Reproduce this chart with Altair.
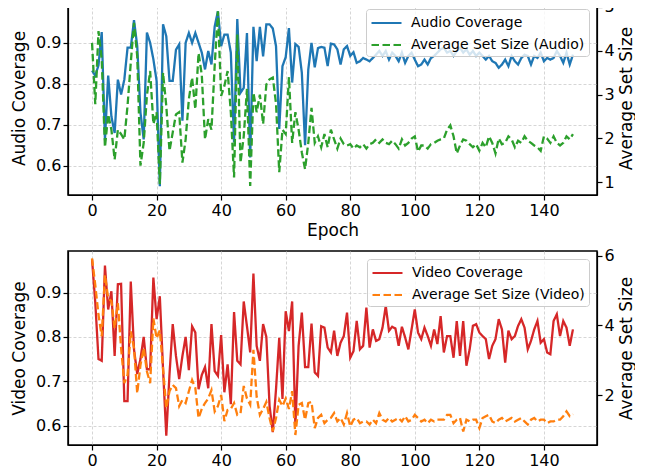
import altair as alt
import pandas as pd

epochs = list(range(150))

audio_cov = [
    0.832, 0.820, 0.845, 0.926, 0.664, 0.820, 0.720, 0.680, 0.810, 0.774,
    0.810, 0.888, 0.888, 0.955, 0.892, 0.730, 0.664, 0.925, 0.900, 0.860,
    0.807, 0.550, 0.945, 0.916, 0.807, 0.807, 0.883, 0.896, 0.710, 0.900,
    0.924, 0.900, 0.924, 0.900, 0.876,
    0.835, 0.880, 0.847, 0.940, 0.977, 0.892, 0.920, 0.920, 0.876, 0.657,
    0.958, 0.778, 0.790, 0.924, 0.620, 0.939, 0.855, 0.939, 0.867, 0.945,
    0.945, 0.935, 0.892, 0.690, 0.843, 0.865, 0.936, 0.803, 0.897, 0.890,
    0.827, 0.650, 0.835, 0.900, 0.840, 0.887, 0.890,
    0.888, 0.843, 0.898, 0.896, 0.884, 0.847, 0.884, 0.892, 0.868, 0.877,
    0.851, 0.855, 0.863, 0.859, 0.855, 0.863, 0.871, 0.880, 0.868, 0.880,
    0.859, 0.876, 0.868, 0.855, 0.876, 0.851, 0.868, 0.876, 0.859, 0.843,
    0.847, 0.859, 0.847, 0.863, 0.868, 0.876, 0.884, 0.888, 0.876, 0.880,
    0.868, 0.880, 0.888, 0.876, 0.884, 0.871, 0.880, 0.868, 0.876, 0.868,
    0.859, 0.868, 0.855, 0.851, 0.839, 0.847, 0.859, 0.843, 0.868, 0.855,
    0.847, 0.863, 0.871, 0.868, 0.847, 0.868, 0.863, 0.876, 0.855, 0.863,
    0.859, 0.863, 0.880, 0.868, 0.851, 0.876, 0.847, 0.871,
]

audio_size = [
    4.18, 2.78, 4.45, 3.80, 1.80, 2.55, 2.20, 1.52, 2.20, 2.10,
    1.98, 2.75, 3.73, 4.64, 3.88, 1.38, 1.90, 2.98, 3.54, 2.33,
    2.60, 0.96, 3.50, 2.74, 1.72, 2.14, 2.55, 2.60, 1.45, 1.98,
    2.90, 3.39, 2.67, 3.95, 3.45, 1.98, 2.44, 2.20, 3.66, 4.90,
    2.97, 3.20, 3.54, 2.60, 1.11, 4.37, 1.45, 2.05, 3.13, 0.92,
    3.05, 2.60, 3.00, 2.33, 3.23, 3.35, 3.39, 2.80, 1.23, 2.20,
    2.10, 3.40, 1.90, 2.60, 2.20, 1.68, 1.30, 1.90, 2.70, 1.90,
    2.05, 1.80,
    2.10, 1.80, 2.20, 1.98, 1.77, 2.00, 1.87, 1.84, 1.87, 1.77,
    1.84, 1.80, 1.87, 1.77, 1.87, 1.90, 1.98, 1.90, 1.98, 1.90,
    1.87, 1.95, 1.87, 1.77, 1.98, 1.84, 1.90, 2.00, 2.05, 1.70,
    1.84, 1.84, 1.77, 1.87, 1.90, 1.95, 1.98, 2.00, 2.20, 2.30,
    2.05, 1.66, 1.84, 1.98, 1.95, 1.87, 1.80, 1.87, 1.72, 1.90,
    1.80, 2.05, 1.90, 1.66, 2.00, 1.87, 1.90, 2.05, 1.98, 1.80,
    1.95, 1.90, 2.05, 1.95, 1.90, 1.84, 1.80, 1.72, 2.05, 2.00,
    1.90, 2.05, 1.90, 1.84, 1.90, 2.05, 1.98, 2.10,
]

video_cov = [
    0.975, 0.878, 0.750, 0.746, 0.961, 0.862, 0.903, 0.757, 0.919, 0.920,
    0.655, 0.655, 0.925, 0.772, 0.716, 0.750, 0.800, 0.727, 0.727, 0.934,
    0.840, 0.892, 0.727, 0.577, 0.716, 0.829, 0.757, 0.705, 0.757, 0.800,
    0.725, 0.824, 0.810, 0.682, 0.714, 0.732, 0.684, 0.829, 0.723, 0.712,
    0.804, 0.675, 0.738, 0.648, 0.856, 0.746, 0.738, 0.880, 0.824, 0.765,
    0.943, 0.780, 0.746, 0.829, 0.800, 0.644, 0.585, 0.682, 0.798, 0.660,
    0.858, 0.813, 0.880, 0.600, 0.780, 0.855, 0.732, 0.732, 0.830, 0.720,
    0.712, 0.824,
    0.821, 0.776, 0.765, 0.814, 0.757, 0.787, 0.802, 0.855, 0.753, 0.768,
    0.836, 0.772, 0.780, 0.866, 0.776, 0.817, 0.791, 0.795, 0.821, 0.870,
    0.814, 0.823, 0.819, 0.780, 0.823, 0.799, 0.772, 0.817, 0.862, 0.810,
    0.795, 0.821, 0.802, 0.780, 0.817, 0.784, 0.847, 0.765, 0.802, 0.802,
    0.753, 0.836, 0.757, 0.836, 0.735, 0.772, 0.825, 0.829, 0.810, 0.802,
    0.795, 0.750, 0.780, 0.795, 0.840, 0.817, 0.742, 0.814, 0.795, 0.802,
    0.825, 0.840, 0.821, 0.772, 0.791, 0.817, 0.836, 0.787, 0.795, 0.765,
    0.761, 0.836, 0.851, 0.802, 0.836, 0.821, 0.780, 0.817,
]

video_size = [
    5.93, 5.16, 4.30, 3.69, 5.45, 4.78, 4.70, 3.92, 4.64, 3.35,
    2.34, 2.58, 3.83, 3.35, 2.05, 2.86, 3.35, 2.68, 2.34, 4.20,
    3.63, 3.86, 2.77, 1.62, 2.11, 2.29, 2.20, 1.68, 1.86, 1.77,
    2.11, 2.43, 2.20, 1.34, 1.60, 1.77, 1.90, 2.14, 1.53, 1.68,
    2.00, 1.25, 1.57, 1.60, 1.77, 1.43, 1.47, 2.26, 1.90, 1.72,
    3.30, 1.95, 1.43, 1.60, 1.80, 1.34, 0.96, 1.34, 1.86, 1.68,
    1.90, 1.60, 2.11, 0.85, 1.72, 1.77, 1.29, 1.77, 1.80, 1.05,
    1.34, 1.43,
    1.19, 1.29, 1.34, 1.48, 1.24, 1.34, 1.15, 1.48, 1.10, 1.29,
    1.34, 1.19, 1.24, 1.24, 1.15, 1.29, 1.19, 1.48, 1.29, 1.24,
    1.34, 1.24, 1.29, 1.34, 1.24, 1.39, 1.24, 1.29, 1.43, 1.34,
    1.24, 1.29, 1.19, 1.29, 1.24, 1.29, 1.29, 1.29, 1.43, 1.43,
    1.19, 1.29, 1.34, 0.95, 1.29, 1.24, 1.29, 1.29, 1.05, 1.34,
    1.39, 1.43, 1.24, 1.19, 1.29, 1.34, 1.24, 1.29, 1.34, 1.24,
    1.29, 1.34, 1.24, 1.15, 1.29, 1.34, 1.24, 1.29, 1.29, 1.19,
    1.24, 1.24, 1.29, 1.29, 1.39, 1.53, 1.39, 1.45,
]

x_ticks = [0, 20, 40, 60, 80, 100, 120, 140]

W, H = 529, 194


def panel(cov, size, cov_name, size_name, c1, c2, cov_title,
          cov_dom, size_dom, size_ticks, x_title):
    n = min(len(epochs), len(cov), len(size))
    df1 = pd.DataFrame({"epoch": epochs[:n], "value": cov[:n], "series": cov_name})
    df2 = pd.DataFrame({"epoch": epochs[:n], "value": size[:n], "series": size_name})
    leg = dict(
        title=None, orient="top-right", offset=8,
        fillColor="rgba(255,255,255,0.8)", strokeColor="#cccccc",
        cornerRadius=3, padding=4, labelFontSize=14, labelColor="black",
        labelFont="DejaVu Sans", labelLimit=400, symbolType="M-1,0H2.53", symbolSize=289,
        symbolStrokeWidth=2.2, labelOffset=21, rowPadding=5,
    )
    color = alt.Color("series:N", scale=alt.Scale(domain=[cov_name, size_name], range=[c1, c2]),
                      legend=alt.Legend(**leg))
    dash = alt.StrokeDash("series:N",
                          scale=alt.Scale(domain=[cov_name, size_name], range=[[1, 0], [7.5, 3.5]]),
                          legend=alt.Legend(**leg))
    xaxis = alt.Axis(values=x_ticks, title=x_title, grid=True) if x_title else alt.Axis(values=x_ticks, title=None, grid=True)
    x = alt.X("epoch:Q", scale=alt.Scale(domain=[-7.45, 156.45], nice=False, zero=False), axis=xaxis)
    l1 = alt.Chart(df1).mark_line(strokeWidth=2.3).encode(
        x=x,
        y=alt.Y("value:Q", scale=alt.Scale(domain=cov_dom, nice=False, zero=False),
                axis=alt.Axis(orient="left", values=[0.6, 0.7, 0.8, 0.9], format=".1f",
                              title=cov_title, grid=True, titlePadding=7)),
        color=color, strokeDash=dash,
    )
    l2 = alt.Chart(df2).mark_line(strokeWidth=2.3).encode(
        x=x,
        y=alt.Y("value:Q", scale=alt.Scale(domain=size_dom, nice=False, zero=False),
                axis=alt.Axis(orient="right", values=size_ticks, format="d",
                              title="Average Set Size", grid=False, titleAngle=270,
                              titleBaseline="top", titlePadding=4)),
        color=color, strokeDash=dash,
    )
    return alt.layer(l1, l2).resolve_scale(y="independent").properties(width=W, height=H)


top = panel(audio_cov, audio_size, "Audio Coverage", "Average Set Size (Audio)",
            "#1f77b4", "#2ca02c", "Audio Coverage", [0.5285, 1.002], [0.711, 5.136],
            [1, 2, 3, 4, 5], "Epoch")
bottom = panel(video_cov, video_size, "Video Coverage", "Average Set Size (Video)",
               "#d62728", "#ff7f0e", "Video Coverage", [0.556, 0.994], [0.563, 6.14],
               [2, 4, 6], None)

chart = alt.vconcat(top, bottom, spacing=8).resolve_scale(
    color="independent", strokeDash="independent"
).properties(
    padding={"left": 1, "top": -10, "right": 0, "bottom": 0}
).configure_view(
    stroke="black", strokeWidth=1.5
).configure_axis(
    labelFont="DejaVu Sans", titleFont="DejaVu Sans",
    labelFontSize=16, titleFontSize=17, titleFontWeight="normal",
    labelColor="black", titleColor="black",
    tickColor="black", domainColor="black", tickSize=5, tickWidth=1.2,
    domainWidth=1.2, labelPadding=2,
    gridColor="#cccccc", gridDash=[3, 2], gridWidth=0.8,
)

chart.save("out.html", embed_options={"renderer": "svg", "actions": False})
